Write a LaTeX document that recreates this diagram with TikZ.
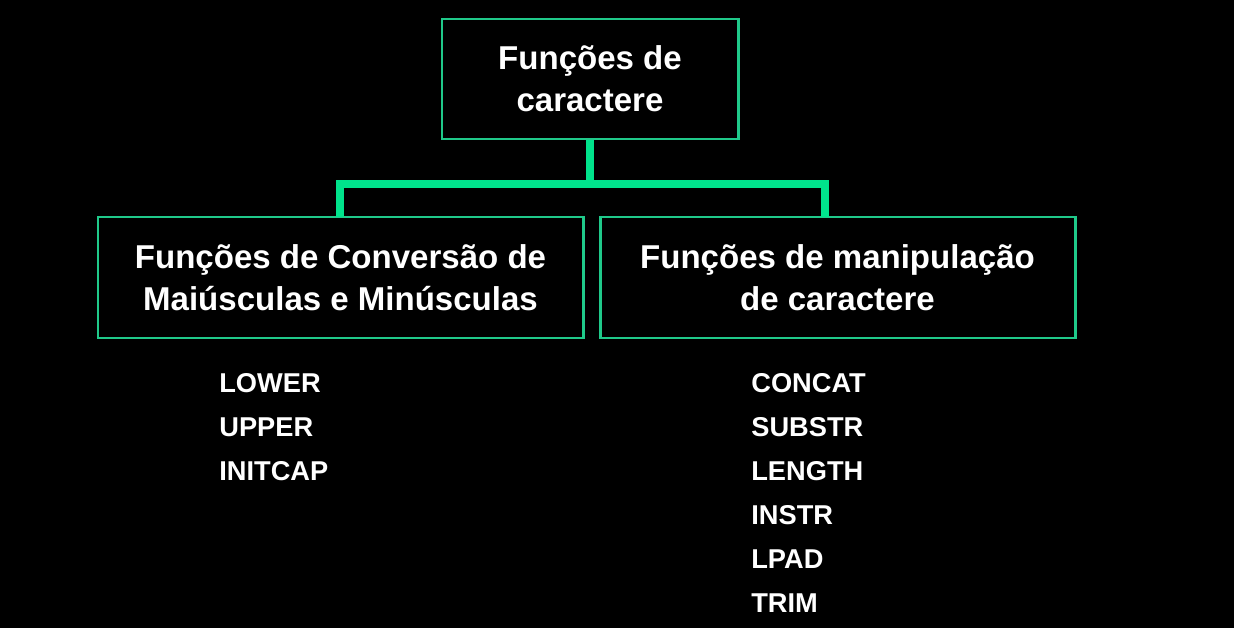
\documentclass[tikz,border=0pt]{standalone}
\usepackage{fontspec}
\setmainfont{Liberation Sans}
\usetikzlibrary{positioning}

\definecolor{boxgreen}{HTML}{1FC98A}
\definecolor{linegreen}{HTML}{00E38C}

\tikzset{
    catbox/.style={draw=boxgreen, line width=1.7pt, text=white, align=center,
        font=\bfseries\fontsize{18.8}{24}\selectfont, inner sep=0pt},
    branch/.style={draw=linegreen, line width=4.5pt},
    fnitem/.style={text=white, anchor=base west, inner sep=0pt,
        font=\bfseries\fontsize{15.5}{18}\selectfont}
}

\begin{document}
\begin{tikzpicture}[x=0.02cm,y=-0.02cm]

    % page and background
    \useasboundingbox (0,0) rectangle (1234,628);
    \fill[black] (0,0) rectangle (1234,628);

    % top category
    \node[catbox, minimum width=296*0.02cm, minimum height=120*0.02cm] (root) at (590,79) {Funções de\\caractere};

    % sub categories
    \node[catbox, minimum width=485*0.02cm, minimum height=121*0.02cm] (conv) at (340.5,277.5) {Funções de Conversão de\\Maiúsculas e Minúsculas};
    \node[catbox, minimum width=475*0.02cm, minimum height=121*0.02cm] (manip) at (837.5,277.5) {Funções de manipulação\\de caractere};

    % connector
    \coordinate (split) at (590,184);
    \coordinate (convtop) at (340,217);
    \coordinate (maniptop) at (825,217);
    \draw[branch] (root.south) -- (split);
    \draw[branch] (convtop) |- (split) -| (maniptop);

    % conversion functions
    \foreach \fn [count=\i] in {LOWER,UPPER,INITCAP}
        \node[fnitem] (conv\i) at (219,348+44*\i) {\fn};

    % manipulation functions
    \foreach \fn [count=\i] in {CONCAT,SUBSTR,LENGTH,INSTR,LPAD,TRIM}
        \node[fnitem] (manip\i) at (751,348+44*\i) {\fn};

\end{tikzpicture}
\end{document}
